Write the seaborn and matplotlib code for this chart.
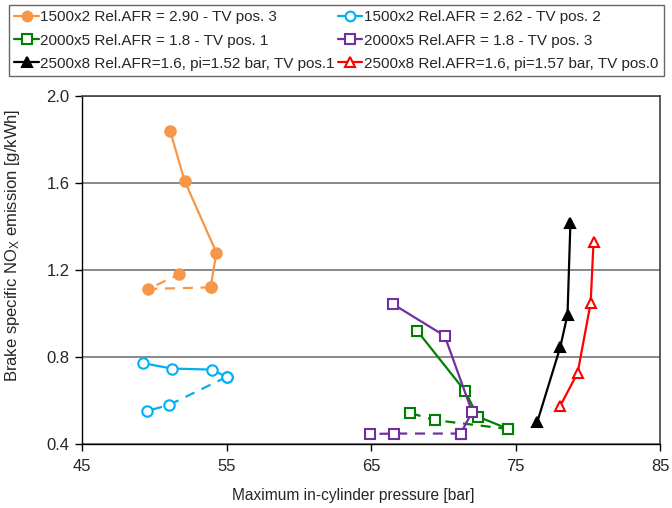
import matplotlib
matplotlib.use("Agg")
import matplotlib.pyplot as plt
import seaborn as sns
import pandas as pd

# Maximum in-cylinder pressure [bar] and BSNOx [g/kWh] for each operating point
orange_x = [51.1, 52.1, 54.3, 53.9]
orange_y = [1.84, 1.61, 1.28, 1.12]
orange_dash_x = [53.9, 49.6, 51.7]
orange_dash_y = [1.12, 1.113, 1.18]

blue_x = [49.2, 51.2, 54.0, 55.0]
blue_y = [0.772, 0.747, 0.742, 0.708]
blue_dash_x = [55.0, 51.0, 49.5]
blue_dash_y = [0.708, 0.579, 0.552]

green_x = [68.2, 71.5, 72.4, 74.5]
green_y = [0.92, 0.644, 0.526, 0.469]
green_dash_x = [74.5, 69.4, 67.7]
green_dash_y = [0.469, 0.51, 0.543]

purple_x = [66.5, 70.1, 72.0, 71.2]
purple_y = [1.044, 0.897, 0.547, 0.448]
purple_dash_x = [71.2, 66.6, 64.9]
purple_dash_y = [0.448, 0.448, 0.446]

black_x = [76.5, 78.1, 78.6, 78.8]
black_y = [0.50, 0.846, 0.995, 1.416]

red_x = [78.1, 79.3, 80.2, 80.4]
red_y = [0.576, 0.727, 1.048, 1.329]

labels = [
    "1500x2 Rel.AFR = 2.90 - TV pos. 3",
    "1500x2 Rel.AFR = 2.62 - TV pos. 2",
    "2000x5 Rel.AFR = 1.8 - TV pos. 1",
    "2000x5 Rel.AFR = 1.8 - TV pos. 3",
    "2500x8 Rel.AFR=1.6, pi=1.52 bar, TV pos.1",
    "2500x8 Rel.AFR=1.6, pi=1.57 bar, TV pos.0",
]

x_ticks = [45, 55, 65, 75, 85]
y_ticks = [0.4, 0.8, 1.2, 1.6, 2.0]

sns.set_theme(style="white")
plt.rcParams["font.family"] = ["Liberation Sans", "DejaVu Sans"]
plt.rcParams["mathtext.fontset"] = "custom"
plt.rcParams["mathtext.rm"] = "Liberation Sans"
plt.rcParams["mathtext.it"] = "Liberation Sans:italic"

fig = plt.figure(figsize=(6.72, 5.08), dpi=100)
ax = fig.add_axes([82 / 672, 64 / 508, 578 / 672, 348 / 508])

ORANGE = "#F79646"
BLUE = "#00B0F0"
GREEN = "#008000"
PURPLE = "#7030A0"
BLACK = "#000000"
RED = "#FF0000"

series = [
    (orange_x, orange_y, orange_dash_x, orange_dash_y, ORANGE, "o", ORANGE),
    (blue_x, blue_y, blue_dash_x, blue_dash_y, BLUE, "o", "white"),
    (green_x, green_y, green_dash_x, green_dash_y, GREEN, "s", "white"),
    (purple_x, purple_y, purple_dash_x, purple_dash_y, PURPLE, "s", "white"),
    (black_x, black_y, None, None, BLACK, "^", BLACK),
    (red_x, red_y, None, None, RED, "^", "white"),
]

handles = []
for (xs, ys, dx, dy, col, mk, fc), lab in zip(series, labels):
    if dx is not None:
        d = pd.DataFrame({"x": dx, "y": dy})
        sns.lineplot(data=d, x="x", y="y", ax=ax, sort=False, estimator=None,
                     color=col, lw=1.6, linestyle=(0, (4.5, 3.5)), marker=mk,
                     markersize=7.5, markerfacecolor=fc, markeredgecolor=col,
                     markeredgewidth=1.5, legend=False)
    d = pd.DataFrame({"x": xs, "y": ys})
    sns.lineplot(data=d, x="x", y="y", ax=ax, sort=False, estimator=None,
                 color=col, lw=1.6, marker=mk, markersize=7.5,
                 markerfacecolor=fc, markeredgecolor=col, markeredgewidth=1.5,
                 legend=False)
    h, = ax.plot([], [], color=col, lw=1.6, marker=mk, markersize=7,
                 markerfacecolor=fc, markeredgecolor=col, markeredgewidth=1.5,
                 label=lab)
    handles.append(h)

ax.set_xlim(45, 85)
ax.set_ylim(0.4, 2.0)
ax.set_xticks(x_ticks)
ax.set_yticks(y_ticks)
ax.set_yticklabels([f"{v:.1f}" for v in y_ticks])
ax.yaxis.grid(True, color="#808080", lw=1.3)
ax.xaxis.grid(False)
ax.set_axisbelow(True)

for s in ["left", "bottom"]:
    ax.spines[s].set_color("black")
    ax.spines[s].set_linewidth(1.0)
for s in ["top", "right"]:
    ax.spines[s].set_color("#404040")
    ax.spines[s].set_linewidth(1.2)

ax.tick_params(axis="both", which="major", direction="out", length=5,
               width=1, color="black", labelsize=12, left=True, bottom=True)
ax.tick_params(axis="x", pad=6)
ax.tick_params(axis="y", pad=4)

ax.set_xlabel("Maximum in-cylinder pressure [bar]", fontsize=11.2)
ax.xaxis.set_label_coords(0.469, -44 / 348)
ax.set_ylabel(r"Brake specific NO$_\mathrm{X}$ emission [g/kWh]",
              fontsize=12)
ax.yaxis.set_label_coords(-60 / 578, 0.57)

order = [0, 2, 4, 1, 3, 5]
leg = fig.legend([handles[i] for i in order], [labels[i] for i in order],
                 loc="upper left", bbox_to_anchor=(9 / 672, 1 - 5 / 508),
                 ncol=2, frameon=True, fancybox=False, fontsize=11,
                 handlelength=1.6, handletextpad=0.1, columnspacing=0.2,
                 labelspacing=0.6, borderpad=0.35, borderaxespad=0.0)
leg.get_frame().set_edgecolor("#404040")
leg.get_frame().set_linewidth(1.0)

fig.savefig("out.png", dpi=100)
